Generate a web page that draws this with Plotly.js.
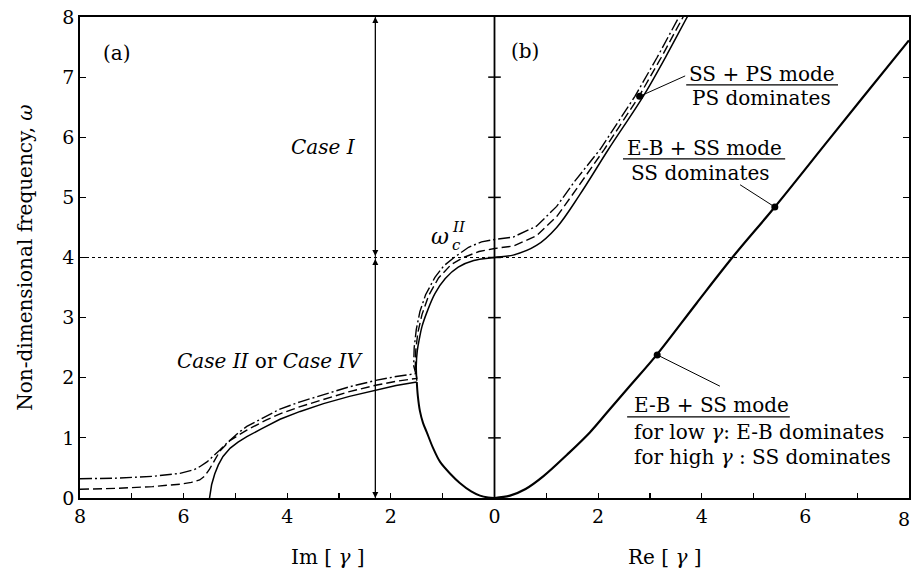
<!DOCTYPE html>
<html>
<head>
<meta charset="utf-8">
<script src="https://cdn.plot.ly/plotly-3.0.1.min.js"></script>
<style>html,body{margin:0;padding:0;background:#fff;}#chart{width:912px;height:569px;}</style>
</head>
<body>
<div id="chart"></div>
<script>
// ---- tick definitions ----
const xTickVals = [-8,-7,-6,-5,-4,-3,-2,-1,0,1,2,3,4,5,6,7,8];
const xTickText = ['8','','6','','4','','2','','0','','2','','4','','6','',''];
const xEdgeLabelVal = 8;
const xEdgeLabelText = '8';
const yTickVals = [0,1,2,3,4,5,6,7,8];
const centreTickY = [1,2,3,4,5,6,7];

// ---- (a) side: Im[gamma] plotted as negative x ----
const leftSolidX = [-5.5,-5.46,-5.4,-5.33,-5.24,-5.1,-4.95,-4.78,-4.5,-4.14,-3.75,-3.3,-2.8,-2.27,-1.9,-1.5];
const leftSolidY = [0.0,0.22,0.4,0.55,0.69,0.83,0.93,1.02,1.15,1.31,1.44,1.57,1.69,1.80,1.87,1.93];

const leftDashX = [-8,-7.3,-6.6,-6.07,-5.85,-5.69,-5.6,-5.5,-5.4,-5.3,-5.1,-4.78,-4.4,-4.14,-3.75,-3.3,-2.8,-2.27,-1.9,-1.5];
const leftDashY = [0.145,0.16,0.19,0.23,0.26,0.3,0.36,0.48,0.63,0.78,0.96,1.13,1.3,1.40,1.52,1.64,1.77,1.88,1.94,1.99];

const leftDashDotX = [-8,-7.3,-6.6,-6.07,-5.8,-5.69,-5.55,-5.43,-5.3,-5.17,-4.95,-4.78,-4.4,-4.14,-3.75,-3.3,-2.8,-2.27,-1.9,-1.5];
const leftDashDotY = [0.32,0.33,0.36,0.41,0.47,0.52,0.60,0.69,0.80,0.91,1.08,1.19,1.37,1.48,1.60,1.72,1.85,1.96,2.02,2.07];

// lower branch of the oval (solid)
const ovalLowX = [-1.5,-1.48,-1.44,-1.38,-1.31,-1.18,-1.05,-0.85,-0.67,-0.45,-0.28,-0.12,0];
const ovalLowY = [1.93,1.7,1.45,1.25,1.1,0.82,0.6,0.4,0.25,0.11,0.04,0.008,0];

// upper branch of the oval (omega_c^II), three styles
const ovalUpSolidX = [-1.5,-1.51,-1.49,-1.45,-1.4,-1.3,-1.15,-0.95,-0.7,-0.4,0];
const ovalUpSolidY = [1.95,2.2,2.45,2.65,2.85,3.1,3.4,3.65,3.84,3.95,4.0];
const ovalUpDashX = [-1.5,-1.53,-1.52,-1.48,-1.4,-1.27,-1.08,-0.84,-0.6,-0.3,0];
const ovalUpDashY = [1.99,2.15,2.45,2.75,3.05,3.37,3.66,3.88,4.0,4.1,4.15];
const ovalUpDashDotX = [-1.52,-1.56,-1.55,-1.51,-1.44,-1.33,-1.15,-0.98,-0.78,-0.5,-0.25,0];
const ovalUpDashDotY = [2.07,2.2,2.5,2.8,3.1,3.38,3.67,3.86,4.0,4.17,4.26,4.3];

// ---- (b) side: Re[gamma] ----
const rightUpSolidX = [0.36,0.81,1.2,1.65,2.2,2.87,3.3,3.72,3.85];
const rightUpSolidY = [4.04,4.20,4.50,5.05,5.80,6.68,7.33,8.0,8.2];
const rightUpDashX = [0.36,0.81,1.2,1.6,2.12,2.79,3.22,3.64,3.77];
const rightUpDashY = [4.19,4.36,4.68,5.16,5.80,6.68,7.33,8.0,8.2];
const rightUpDashDotX = [0.36,0.81,1.2,1.55,2.04,2.71,3.14,3.56,3.69];
const rightUpDashDotY = [4.34,4.52,4.85,5.27,5.80,6.68,7.33,8.0,8.2];

const rightLowX = [0,0.3,0.6,0.94,1.4,1.84,2.2,2.62,3.13,3.9,4.61,5.41,6.5,7.96,8.0];
const rightLowY = [0,0.04,0.15,0.36,0.72,1.09,1.45,1.87,2.38,3.24,4.02,4.84,6.01,7.57,7.61];

// marked points
const dotX = [2.80,5.41,3.14];
const dotY = [6.68,4.84,2.38];

// reference level omega = 4
const refLevelX = [-8,8];
const refLevelY = [4,4];

// case arrows position
const caseArrowX = -2.3;
const caseArrowLevels = [0,4,8];

// label anchors (data coordinates)
const leaderFromX = [2.80,5.41,3.14];
const leaderFromY = [6.68,4.84,2.38];
const leaderToX = [3.68,4.74,4.35];
const leaderToY = [7.02,5.21,1.86];
const barX0 = [3.70,2.48,2.56];
const barX1 = [6.63,5.61,5.70];
const barY = [6.87,5.64,1.35];

const black = '#000';
const serif = 'DejaVu Serif, Liberation Serif, serif';

const traces = [
  {x: leftSolidX, y: leftSolidY, mode:'lines', line:{color:black, width:1.5}},
  {x: leftDashX.concat(ovalUpDashX, rightUpDashX), y: leftDashY.concat(ovalUpDashY, rightUpDashY), mode:'lines', line:{color:black, width:1.4, dash:'9px,4px'}},
  {x: leftDashDotX.concat(ovalUpDashDotX, rightUpDashDotX), y: leftDashDotY.concat(ovalUpDashDotY, rightUpDashDotY), mode:'lines', line:{color:black, width:1.4, dash:'12px,3px,2px,3px'}},
  {x: ovalLowX, y: ovalLowY, mode:'lines', line:{color:black, width:2, shape:'spline'}},
  {x: ovalUpSolidX.concat(rightUpSolidX), y: ovalUpSolidY.concat(rightUpSolidY), mode:'lines', line:{color:black, width:1.5, shape:'spline'}},
  {x: rightLowX, y: rightLowY, mode:'lines', line:{color:black, width:2.2, shape:'spline'}},
  {x: refLevelX, y: refLevelY, mode:'lines', line:{color:black, width:1.2, dash:'dot'}},
  {x: [0,0], y: [0,8], mode:'lines', line:{color:black, width:1.8}},
  {x: centreTickY.map(()=>0), y: centreTickY, mode:'markers', marker:{symbol:'line-ew', size:9, line:{color:black, width:1.5}}},
  {x: [caseArrowX, caseArrowX], y: [caseArrowLevels[0], caseArrowLevels[2]], mode:'lines', line:{color:black, width:1}},
  {x: dotX, y: dotY, mode:'markers', marker:{color:black, size:7}}
];

const annotations = [];
function txt(x, y, text, opts) {
  annotations.push(Object.assign({x:x, y:y, xref:'x', yref:'y', text:text, showarrow:false,
    font:{family:serif, size:20, color:black}}, opts||{}));
}
txt(-7.29, 7.40, '(a)');
txt(0.59, 7.43, '(b)');
txt(-2.64, 5.84, '<i>Case I</i>', {xanchor:'right'});
txt(-2.50, 2.28, '<i>Case II</i> or <i>Case IV</i>', {xanchor:'right'});
txt(-0.86, 4.35, '<i>ω</i>', {xanchor:'right', font:{family:serif, size:22, color:black}, borderpad:0});
txt(-0.84, 4.50, '<i>II</i>', {xanchor:'left', font:{family:serif, size:15, color:black}, borderpad:0});
txt(-0.84, 4.21, '<i>c</i>', {xanchor:'left', font:{family:serif, size:15, color:black}, borderpad:0});
txt(5.17, 7.05, 'SS + PS mode');
txt(5.16, 6.65, 'PS dominates');
txt(4.05, 5.82, 'E-B + SS mode');
txt(3.97, 5.40, 'SS dominates');
txt(2.65, 1.55, 'E-B + SS mode', {xanchor:'left'});
txt(2.65, 1.10, 'for low <i>γ</i>: E-B dominates', {xanchor:'left'});
txt(2.65, 0.69, 'for high <i>γ</i> : SS dominates', {xanchor:'left'});
// last tick label at the right edge (kept inside the page)
annotations.push({x:xEdgeLabelVal, xref:'x', yref:'paper', y:0, xanchor:'right', xshift:3, yanchor:'top', yshift:-8, text:xEdgeLabelText, showarrow:false, font:{family:serif, size:19, color:black}});
// axis captions for the two halves
annotations.push({xref:'paper', yref:'paper', x:(289-80)/829, y:-0.123, yanchor:'middle', text:'Im [ <i>γ</i> ]', showarrow:false, font:{family:serif, size:20, color:black}});
annotations.push({xref:'paper', yref:'paper', x:(704-80)/829, y:-0.123, yanchor:'middle', text:'Re [ <i>γ</i> ]', showarrow:false, font:{family:serif, size:20, color:black}});
// double-headed case arrows
for (let i = 0; i < 2; i++) {
  annotations.push({x:caseArrowX, y:caseArrowLevels[i*2], ax:caseArrowX, ay:caseArrowLevels[1], xref:'x', yref:'y', axref:'x', ayref:'y',
    text:'', showarrow:true, arrowhead:2, startarrowhead:2, arrowside:'end+start', arrowsize:1.2, startarrowsize:1.2, arrowwidth:1, arrowcolor:black, standoff:0, startstandoff:0, font:{size:1}});
}

const shapes = [];
for (let i = 0; i < leaderFromX.length; i++) {
  shapes.push({type:'line', xref:'x', yref:'y', x0:leaderFromX[i], y0:leaderFromY[i], x1:leaderToX[i], y1:leaderToY[i], line:{color:black, width:1}});
  shapes.push({type:'line', xref:'x', yref:'y', x0:barX0[i], y0:barY[i], x1:barX1[i], y1:barY[i], line:{color:black, width:1.3}});
}

const layout = {
  width:912, height:569,
  margin:{l:80, r:3, t:17, b:71},
  paper_bgcolor:'#fff', plot_bgcolor:'#fff',
  showlegend:false,
  font:{family:serif, size:19, color:black},
  xaxis:{range:[-8,8], tickvals:xTickVals, ticktext:xTickText, ticks:'inside', ticklen:5, tickwidth:1.2, tickcolor:black,
    showline:true, linecolor:black, linewidth:1.8, mirror:true, showgrid:false, zeroline:false, fixedrange:true,
    tickfont:{family:serif, size:19, color:black}},
  yaxis:{range:[0,8], tickvals:yTickVals, ticks:'inside', ticklen:6, tickwidth:1.2, tickcolor:black,
    showline:true, linecolor:black, linewidth:1.8, mirror:'ticks', showgrid:false, zeroline:false, fixedrange:true,
    tickfont:{family:serif, size:19, color:black},
    title:{text:'Non-dimensional frequency, <i>ω</i>', font:{family:serif, size:20, color:black}, standoff:24}},
  annotations:annotations,
  shapes:shapes
};

Plotly.newPlot('chart', traces, layout, {displayModeBar:false, staticPlot:true});
</script>
</body>
</html>
